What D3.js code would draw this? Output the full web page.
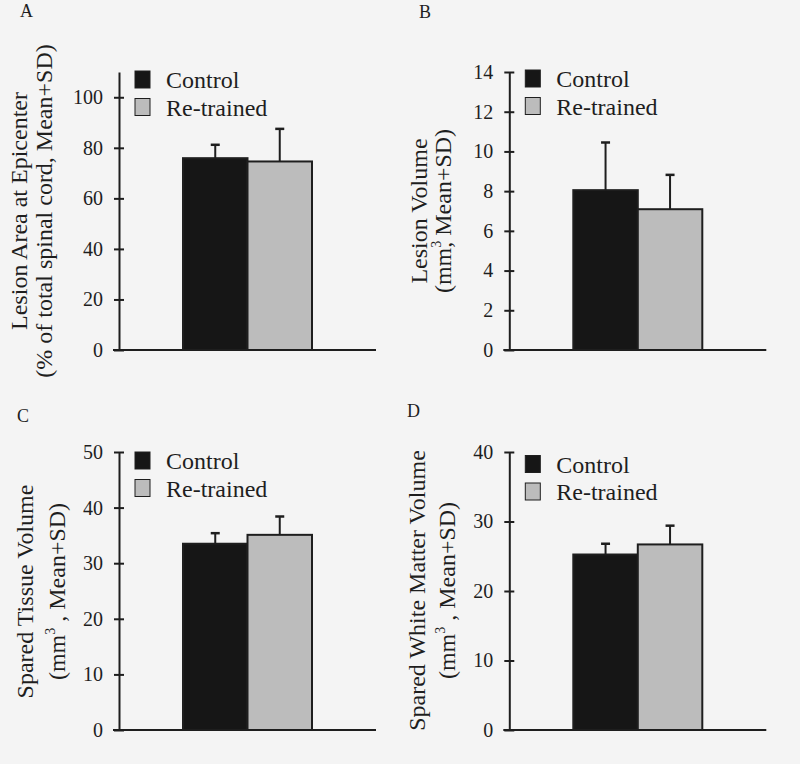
<!DOCTYPE html>
<html>
<head>
<meta charset="utf-8">
<script src="https://cdn.jsdelivr.net/npm/d3@7"></script>
<style>
  body { margin: 0; background: #f4f4f4; }
  svg { display: block; font-family: "Liberation Serif", "Times New Roman", serif; }
</style>
</head>
<body>
<div class="chart-wrapper"></div>
<script>
// groups shown in every panel
const groups = ['Control', 'Re-trained']

// A - lesion area at epicenter (%)
const lesionAreaMean = [75.9, 74.6]
const lesionAreaSD = [5.3, 12.9]
const lesionAreaTicks = [0, 20, 40, 60, 80, 100]

// B - lesion volume (mm3)
const lesionVolMean = [8.05, 7.09]
const lesionVolSD = [2.4, 1.73]
const lesionVolTicks = [0, 2, 4, 6, 8, 10, 12, 14]

// C - spared tissue volume (mm3)
const sparedTissueMean = [33.5, 35.1]
const sparedTissueSD = [1.9, 3.3]
const sparedTissueTicks = [0, 10, 20, 30, 40, 50]

// D - spared white matter volume (mm3)
const sparedWMMean = [25.25, 26.7]
const sparedWMSD = [1.55, 2.7]
const sparedWMTicks = [0, 10, 20, 30, 40]

const colors = ['#161616', '#bcbcbc']
const ink = '#1e1e1e'

const width = 800
const height = 764

let svg = d3.select('.chart-wrapper').append('svg')
    .attr('width', width)
    .attr('height', height)

svg.append('rect')
    .attr('width', width)
    .attr('height', height)
    .attr('fill', '#f4f4f4')

// panel layout: axis origin, label spots, legend offset
const panels = [
    { letter: 'A', mean: lesionAreaMean, sd: lesionAreaSD, ticks: lesionAreaTicks, max: 110,
      ax: 119, zero: 350, letterX: 20, letterY: 17, legendDy: -1,
      title: ['Lesion Area at Epicenter', '(% of total spinal cord, Mean+SD)'],
      titleX: [26.5, 51.5], titleY: 211, sup: false },
    { letter: 'B', mean: lesionVolMean, sd: lesionVolSD, ticks: lesionVolTicks, max: 14,
      ax: 509.3, zero: 350, letterX: 419, letterY: 18, legendDy: -2,
      title: ['Lesion Volume', null], titleX: [426.5, 451], titleY: 211, sup: 'tight' },
    { letter: 'C', mean: sparedTissueMean, sd: sparedTissueSD, ticks: sparedTissueTicks, max: 50,
      ax: 119, zero: 730, letterX: 17, letterY: 421.5, legendDy: 0,
      title: ['Spared Tissue Volume', null], titleX: [33, 65], titleY: 591.5, sup: 'space' },
    { letter: 'D', mean: sparedWMMean, sd: sparedWMSD, ticks: sparedWMTicks, max: 40,
      ax: 509.3, zero: 730, letterX: 407, letterY: 416.5, legendDy: 3.5,
      title: ['Spared White Matter Volume', null], titleX: [424.5, 455], titleY: 590.5, sup: 'space' }
]

const plotH = 278

panels.forEach(p => {
    let g = svg.append('g')

    let y = d3.scaleLinear()
        .domain([0, p.max])
        .range([p.zero, p.zero - plotH])

    let x = d3.scaleBand()
        .domain(groups)
        .range([p.ax + 64, p.ax + 193])
        .padding(0)

    // panel letter
    g.append('text')
        .attr('x', p.letterX)
        .attr('y', p.letterY)
        .attr('font-size', 18)
        .attr('fill', ink)
        .text(p.letter)

    // bars
    g.selectAll('rect.bar')
        .data(groups)
        .enter()
        .append('rect')
        .attr('class', 'bar')
        .attr('x', d => x(d))
        .attr('width', x.bandwidth())
        .attr('y', (d, i) => y(p.mean[i]))
        .attr('height', (d, i) => p.zero - y(p.mean[i]))
        .attr('fill', (d, i) => colors[i])
        .attr('stroke', ink)
        .attr('stroke-width', 2)

    // error bars (mean + SD only)
    let err = g.selectAll('g.err')
        .data(groups)
        .enter()
        .append('g')
        .attr('class', 'err')

    err.append('line')
        .attr('x1', d => x(d) + x.bandwidth() / 2)
        .attr('x2', d => x(d) + x.bandwidth() / 2)
        .attr('y1', (d, i) => y(p.mean[i]))
        .attr('y2', (d, i) => y(p.mean[i] + p.sd[i]))
        .attr('stroke', ink)
        .attr('stroke-width', 2)

    err.append('line')
        .attr('x1', d => x(d) + x.bandwidth() / 2 - 4.5)
        .attr('x2', d => x(d) + x.bandwidth() / 2 + 4.5)
        .attr('y1', (d, i) => y(p.mean[i] + p.sd[i]))
        .attr('y2', (d, i) => y(p.mean[i] + p.sd[i]))
        .attr('stroke', ink)
        .attr('stroke-width', 2.5)

    // y axis
    let yAxis = g.append('g')
        .attr('transform', `translate(${p.ax},0)`)
        .call(d3.axisLeft(y).tickValues(p.ticks).tickSizeInner(5).tickSizeOuter(0).tickPadding(11))

    yAxis.select('.domain').attr('stroke', ink).attr('stroke-width', 2)
    yAxis.selectAll('.tick line').attr('x1', 5).attr('stroke', ink).attr('stroke-width', 2)
    yAxis.selectAll('.tick text')
        .attr('font-size', 20)
        .attr('font-family', '"Liberation Serif", "Times New Roman", serif')
        .attr('fill', ink)

    // x baseline
    g.append('line')
        .attr('x1', p.ax - 6)
        .attr('x2', p.ax + 257)
        .attr('y1', p.zero)
        .attr('y2', p.zero)
        .attr('stroke', ink)
        .attr('stroke-width', 2)

    // legend
    let legTop = p.zero - plotH + p.legendDy
    let leg = g.selectAll('g.leg')
        .data(groups)
        .enter()
        .append('g')
        .attr('class', 'leg')
        .attr('transform', (d, i) => `translate(${p.ax + 16},${legTop + i * 27.5})`)

    leg.append('rect')
        .attr('width', 15)
        .attr('height', 17)
        .attr('fill', (d, i) => colors[i])
        .attr('stroke', ink)
        .attr('stroke-width', 1)

    leg.append('text')
        .attr('x', 31)
        .attr('y', 17)
        .attr('font-size', 24)
        .attr('fill', ink)
        .text(d => d)

    // y title (two lines, rotated)
    let t1 = g.append('text')
        .attr('transform', `translate(${p.titleX[0]},${p.titleY}) rotate(-90)`)
        .attr('text-anchor', 'middle')
        .attr('font-size', 24)
        .attr('fill', ink)
        .text(p.title[0])

    let t2 = g.append('text')
        .attr('transform', `translate(${p.titleX[1]},${p.titleY}) rotate(-90)`)
        .attr('text-anchor', 'middle')
        .attr('font-size', 24)
        .attr('fill', ink)

    if (!p.sup) {
        t2.text(p.title[1])
    } else {
        t2.append('tspan').text('(mm')
        t2.append('tspan').attr('dy', -10).attr('font-size', 14).text('3')
        if (p.sup === 'tight') {
            t2.append('tspan').attr('dy', 10).attr('dx', -7).text(', Mean+SD)')
        } else {
            t2.append('tspan').attr('dy', 10).text(' , Mean+SD)')
        }
    }
})
</script>
</body>
</html>
